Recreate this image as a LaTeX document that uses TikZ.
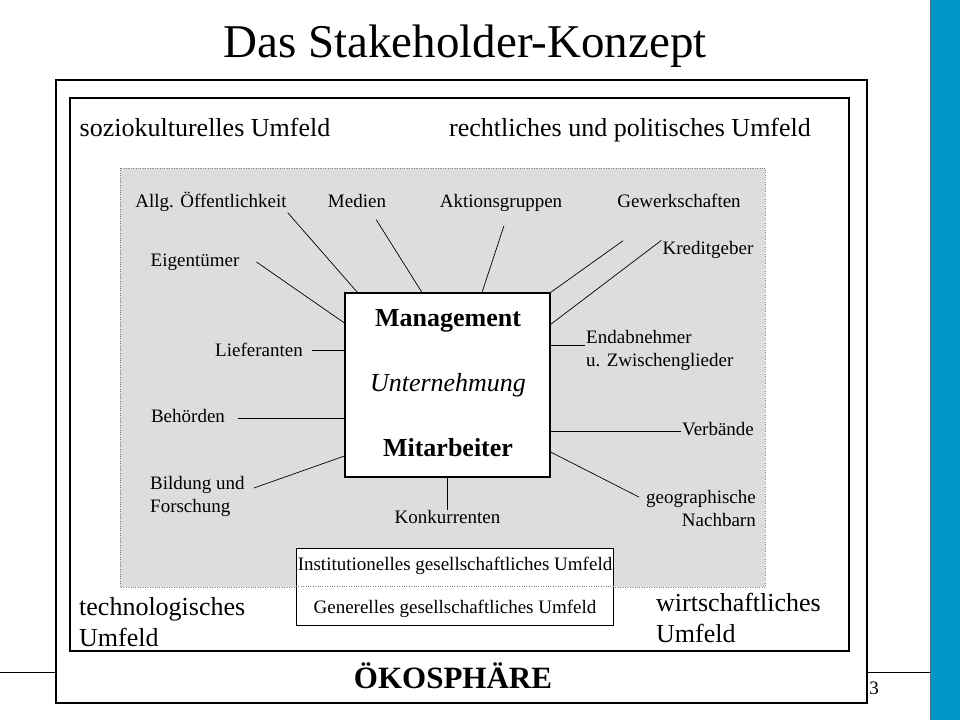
\documentclass[tikz,border=0pt]{standalone}
\usepackage{fontspec}
\setmainfont{Liberation Serif}
\usepackage{tikz}
\usetikzlibrary{positioning}
\tikzstyle{klein}=[font=\fontsize{19}{23}\selectfont,inner sep=1pt,text height=13pt,text depth=4pt]
\tikzstyle{gross}=[font=\fontsize{26}{31}\selectfont,inner sep=1pt,text height=18pt,text depth=6pt]
\tikzstyle{mehrzeilig}=[text height={},text depth={}]
\definecolor{blau}{RGB}{0,150,201}
\definecolor{grau}{RGB}{221,221,221}

\begin{document}
\begin{tikzpicture}[-,x=1pt,y=-1pt,speiche/.style={line width=0.7pt},rahmen/.style={line width=1.2pt}]

\useasboundingbox (0,0) rectangle (960,720);

% Folie
\fill[blau] (930,0) rectangle (960,720);
\draw[black!60,line width=0.8pt] (930,0) -- (930,720);
\draw[line width=1pt] (0,672) -- (930,672);
\draw[rahmen,fill=white] (56,80) rectangle (867,703);
\draw[rahmen] (70,98) rectangle (849,651);
\draw[fill=grau,draw=gray,dotted] (120,168) rectangle (765,587);

\draw node[font=\fontsize{47}{50}\selectfont] (titel) at (465,46) {Das Stakeholder-Konzept};
\draw node[klein] (seite) at (874,690) {3};

% Umfelder
\draw node[gross] (sozio) at (205,130) {soziokulturelles Umfeld};
\draw node[gross] (recht) at (630,130) {rechtliches und politisches Umfeld};
\draw node[gross,mehrzeilig,align=left,anchor=west] (techno) at (78,622) {technologisches\\Umfeld};
\draw node[gross,mehrzeilig,align=left,anchor=west] (wirt) at (655,618) {wirtschaftliches\\Umfeld};
\draw node[font=\bfseries\fontsize{31}{34}\selectfont] (oeko) at (453,676) {ÖKOSPHÄRE};

% Unternehmung
\draw node[draw,fill=white,line width=1.1pt,minimum width=205pt,minimum height=184pt] (mgmt) at (447.5,385) {};
\draw node[font=\bfseries\fontsize{26}{30}\selectfont] (manag) at (448,321) {Management};
\draw node[font=\itshape\fontsize{26}{30}\selectfont] (unter) at (448,385) {Unternehmung};
\draw node[font=\bfseries\fontsize{26}{30}\selectfont] (mitarb) at (448,448) {Mitarbeiter};

% Stakeholder
\draw node[klein] (allg) at (211,203) {Allg. Öffentlichkeit};
\draw node[klein] (medien) at (357,203) {Medien};
\draw node[klein] (aktion) at (501,203) {Aktionsgruppen};
\draw node[klein] (gewerk) at (679,203) {Gewerkschaften};
\draw node[klein] (kredit) at (708,250) {Kreditgeber};
\draw node[klein] (eigen) at (195,262) {Eigentümer};
\draw node[klein] (liefer) at (259,352) {Lieferanten};
\draw node[klein,mehrzeilig,align=left,anchor=west] (endab) at (585,350) {Endabnehmer\\u. Zwischenglieder};
\draw node[klein] (behoerd) at (188,418) {Behörden};
\draw node[klein] (verband) at (718,431) {Verbände};
\draw node[klein,mehrzeilig,align=left,anchor=west] (bildung) at (149,496) {Bildung und\\Forschung};
\draw node[klein,mehrzeilig,align=right,anchor=east] (geo) at (757,508) {geographische\\Nachbarn};
\draw node[klein,below=32pt of mgmt] (konk) {Konkurrenten};

% Umfeld-Kasten
\draw node[draw,fill=white,line width=0.9pt,minimum width=317pt,minimum height=77pt] (umf) at (455,586.5) {};
\draw node[klein] (inst) at (455,566) {Institutionelles gesellschaftliches Umfeld};
\draw node[klein] (gen) at (455,609) {Generelles gesellschaftliches Umfeld};

\path
(umf.west) edge[dotted,gray] (umf.east)
(allg.south east) edge[speiche] ([xshift=13pt]mgmt.north west)
([shift={(-11,7)}]medien.south east) edge[speiche] ([xshift=-25.5pt]mgmt.north)
([shift={(3,13)}]aktion.south) edge[speiche] ([xshift=34.5pt]mgmt.north)
([shift={(7,28)}]gewerk.south west) edge[speiche] (mgmt.north east)
(kredit.north west) edge[speiche] ([shift={(0,32)}]mgmt.north east)
([shift={(0,-5)}]endab.west) edge[speiche] ([shift={(0,-40)}]mgmt.east)
(verband.west) edge[speiche] ([shift={(0,46)}]mgmt.east)
([shift={(-6,-11)}]geo.west) edge[speiche] ([shift={(0,67)}]mgmt.east)
(konk.north) edge[speiche] (mgmt.south)
([shift={(8,-8)}]bildung.east) edge[speiche] ([shift={(0,71)}]mgmt.west)
([xshift=12pt]behoerd.east) edge[speiche] ([shift={(0,33)}]mgmt.west)
([shift={(8,-2)}]liefer.east) edge[speiche] ([shift={(0,-35)}]mgmt.west)
([xshift=16pt]eigen.east) edge[speiche] ([shift={(0,-62)}]mgmt.west)
;
\end{tikzpicture}
\end{document}
